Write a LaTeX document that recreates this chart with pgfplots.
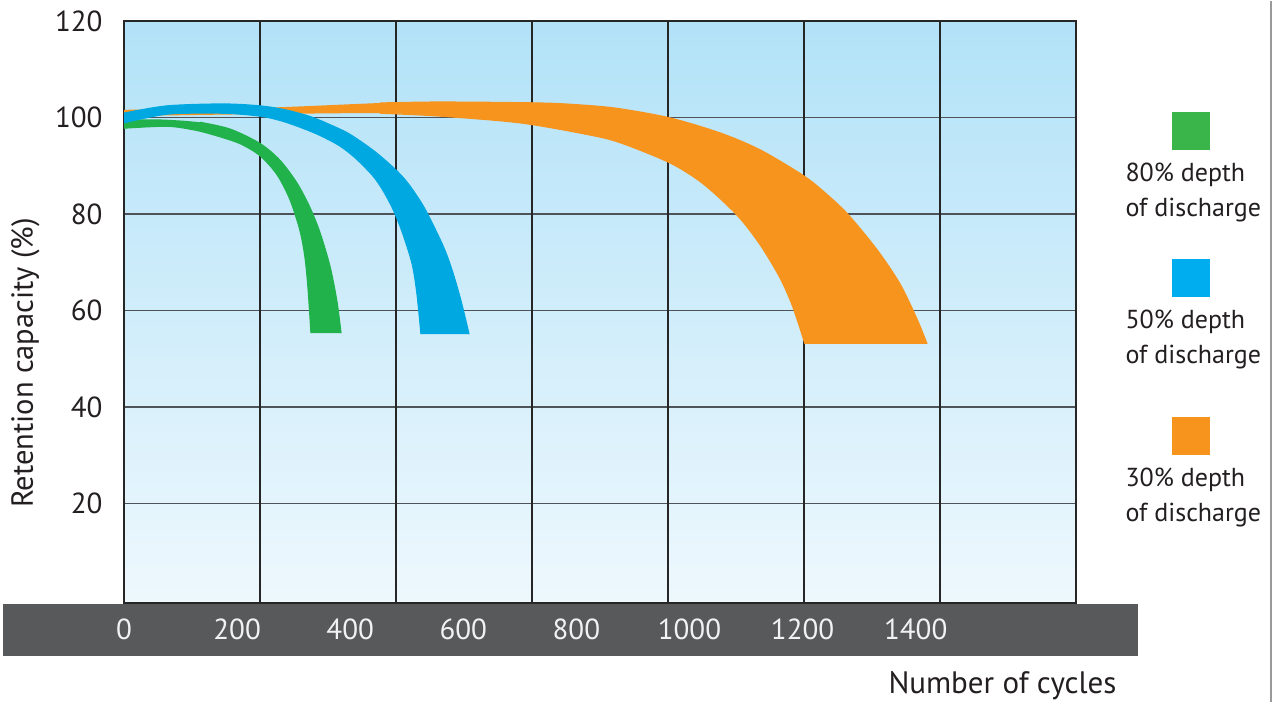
\documentclass[border=0pt]{standalone}
\usepackage{fontspec}
\setmainfont{PT Sans}
\usepackage{pgfplots}
\pgfplotsset{compat=1.18}
\usepgfplotslibrary{fillbetween}

\definecolor{bgtop}{HTML}{B2E2F8}
\definecolor{bgbot}{HTML}{EEF8FD}
\definecolor{barcol}{HTML}{58595B}
\definecolor{gridv}{HTML}{262626}
\definecolor{gridh}{HTML}{4D5359}
\definecolor{txt}{HTML}{231F20}
\definecolor{ticklight}{HTML}{F1F2F2}
\definecolor{gband}{HTML}{21B24B}
\definecolor{bband}{HTML}{00A8E1}
\definecolor{oband}{HTML}{F7941E}
\definecolor{gleg}{HTML}{39B54A}
\definecolor{bleg}{HTML}{00AEEF}
\definecolor{oleg}{HTML}{F7941D}

\begin{document}
% one unit = one pixel of the reference (0.4pt)
\begin{tikzpicture}[x=0.4pt,y=0.4pt]
\path (0,0) rectangle (1276,-701);
% dark strip behind the x tick labels
\fill[barcol] (3,-603) rectangle (1138,-655);

\begin{axis}[
    at={(49.6pt,-240.8pt)}, anchor=south west,
    scale only axis, width=380.8pt, height=232.8pt,
    xmin=0, xmax=1683.5, ymin=-0.62, ymax=120,
    axis background/.style={top color=bgtop, bottom color=bgbot},
    axis line style={draw=gridv, line width=0.6pt},
    xtick={0,200,...,1400},
    ytick={20,40,...,120},
    major tick length=0pt,
    ymajorgrids,
    extra x ticks={240.5,481,721.5,962,1202.5,1443},
    extra x tick labels={},
    extra x tick style={grid=major},
    major grid style={draw=gridv, line width=0.56pt},
    major y grid style={draw=gridh, line width=0.72pt},
    /pgf/number format/assume math mode=true,
    /pgf/number format/1000 sep={},
    xticklabel style={font=\fontsize{11.6}{14}\selectfont, text=ticklight,
        anchor=center, inner sep=0pt, yshift=-10.6pt},
    yticklabel style={font=\fontsize{11.6}{14}\selectfont, text=txt,
        anchor=east, inner sep=0pt, xshift=-8.4pt},
    edge/.style={smooth, line width=0.5pt, line join=round},
]
% 30% depth of discharge
\addplot[draw=none, smooth, name path=ou] coordinates {
    (0,101.6) (240.5,102.0) (452.7,103.0) (558.8,103.2) (735.6,103.0)
    (818.7,102.5) (877.1,101.8) (965.5,99.9) (1053.9,96.8) (1124.6,93.3)
    (1200.7,88.0) (1239.6,84.4) (1280.2,79.9) (1331.5,72.6) (1372.2,65.5)
    (1402.3,58.2) (1420.0,53.1)};
\addplot[draw=none, smooth, name path=ol] coordinates {
    (0,100.3) (240.5,100.7) (452.7,100.9) (558.8,100.3) (700.3,98.9)
    (818.7,96.5) (877.1,94.8) (965.5,90.6) (1023.8,86.3) (1084.0,79.8)
    (1124.6,73.7) (1160.0,66.8) (1183.0,60.7) (1204.2,53.1)};
\addplot[oband] fill between[of=ou and ol];

% 80% depth of discharge
\addplot[draw=none, smooth, name path=gu] coordinates {
    (0,99.5) (63.7,99.6) (134.4,99.0) (187.4,97.6) (240.5,94.6)
    (275.9,91.1) (305.9,86.4) (328.9,81.3) (346.6,76.1) (364.3,69.1)
    (376.6,61.8) (383.7,55.3)};
\addplot[draw=none, smooth, name path=gl] coordinates {
    (0,97.8) (76.0,98.2) (125.6,97.4) (164.5,96.2) (205.1,94.6)
    (240.5,92.1) (270.5,88.2) (293.5,83.0) (311.2,76.6) (320.1,71.0)
    (325.4,64.7) (330.7,55.3)};
\addplot[gband] fill between[of=gu and gl];

% 50% depth of discharge
\addplot[draw=none, smooth, name path=bu] coordinates {
    (0,100.9) (76.0,102.4) (175.1,102.8) (240.5,102.4) (284.7,101.6)
    (328.9,100.2) (364.3,98.5) (399.6,96.5) (443.8,92.9) (482.7,88.9)
    (505.7,85.8) (532.3,81.0) (564.1,73.4) (580.0,68.4) (595.9,62.0)
    (610.1,55.1)};
\addplot[draw=none, smooth, name path=bl] coordinates {
    (0,98.9) (76.0,100.7) (175.1,100.9) (240.5,100.3) (275.9,99.4)
    (311.2,98.0) (346.6,96.3) (381.9,94.1) (410.2,91.5) (440.3,87.9)
    (458.0,84.9) (475.7,81.0) (491.6,76.4) (509.3,69.8) (518.1,63.5)
    (525.2,55.1)};
\addplot[bband] fill between[of=bu and bl];

% smooth edges over the fills (same points, only where no other band lies on top)
\addplot[oband, edge] coordinates {
    (452.7,103.0) (558.8,103.2) (735.6,103.0)
    (818.7,102.5) (877.1,101.8) (965.5,99.9) (1053.9,96.8) (1124.6,93.3)
    (1200.7,88.0) (1239.6,84.4) (1280.2,79.9) (1331.5,72.6) (1372.2,65.5)
    (1402.3,58.2) (1420.0,53.1)};
\addplot[oband, edge] coordinates {
    (452.7,100.9) (558.8,100.3) (700.3,98.9)
    (818.7,96.5) (877.1,94.8) (965.5,90.6) (1023.8,86.3) (1084.0,79.8)
    (1124.6,73.7) (1160.0,66.8) (1183.0,60.7) (1204.2,53.1)};
\addplot[gband, edge] coordinates {
    (134.4,99.0) (187.4,97.6) (240.5,94.6)
    (275.9,91.1) (305.9,86.4) (328.9,81.3) (346.6,76.1) (364.3,69.1)
    (376.6,61.8) (383.7,55.3)};
\addplot[gband, edge] coordinates {
    (0,97.8) (76.0,98.2) (125.6,97.4) (164.5,96.2) (205.1,94.6)
    (240.5,92.1) (270.5,88.2) (293.5,83.0) (311.2,76.6) (320.1,71.0)
    (325.4,64.7) (330.7,55.3)};
\addplot[bband, edge] coordinates {
    (0,100.9) (76.0,102.4) (175.1,102.8) (240.5,102.4) (284.7,101.6)
    (328.9,100.2) (364.3,98.5) (399.6,96.5) (443.8,92.9) (482.7,88.9)
    (505.7,85.8) (532.3,81.0) (564.1,73.4) (580.0,68.4) (595.9,62.0)
    (610.1,55.1)};
\addplot[bband, edge] coordinates {
    (0,98.9) (76.0,100.7) (175.1,100.9) (240.5,100.3) (275.9,99.4)
    (311.2,98.0) (346.6,96.3) (381.9,94.1) (410.2,91.5) (440.3,87.9)
    (458.0,84.9) (475.7,81.0) (491.6,76.4) (509.3,69.8) (518.1,63.5)
    (525.2,55.1)};
\end{axis}

% axis titles
\node[rotate=90, anchor=base, text=txt, inner sep=0pt, font=\fontsize{12.2}{14}\selectfont]
    at (33,-362) {Retention capacity (\%)};
\node[anchor=base west, text=txt, inner sep=0pt, font=\fontsize{12.4}{15}\selectfont]
    at (888,-692) {Number of cycles};

% legend
\fill[gleg] (1172,-111) rectangle (1210,-149);
\fill[bleg] (1172,-258) rectangle (1210,-296);
\fill[oleg] (1172,-416) rectangle (1210,-454);
\begin{scope}[every node/.style={anchor=base west, inner sep=0pt, text=txt,
        font=\fontsize{10.4}{12.5}\selectfont}]
\node at (1125,-180) {80\% depth};
\node at (1125,-215) {of discharge};
\node at (1125,-327) {50\% depth};
\node at (1125,-362) {of discharge};
\node at (1125,-485) {30\% depth};
\node at (1125,-520) {of discharge};
\end{scope}

\draw[draw=black!40, line width=0.8pt] (1271,0) -- (1271,-700.5);
\end{tikzpicture}
\end{document}
